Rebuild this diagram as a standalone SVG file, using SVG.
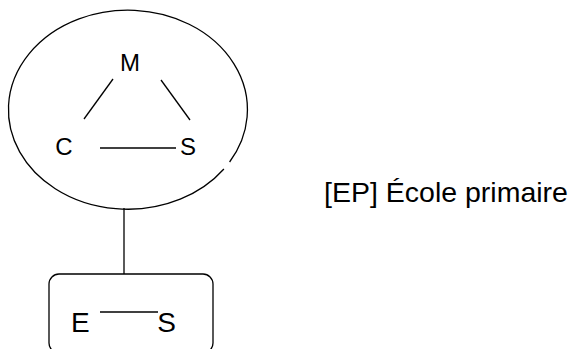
<svg xmlns="http://www.w3.org/2000/svg" width="578" height="349" viewBox="0 0 578 349">
  <style>
    .ln { stroke: #000; stroke-width: 1.3; fill: none; }
    .t { font-family: "Liberation Sans", Arial, sans-serif; font-size: 24px; fill: #000; }
    .tb { font-family: "Liberation Sans", Arial, sans-serif; font-size: 28px; fill: #000; }
    .lbl { font-family: "Liberation Sans", Arial, sans-serif; font-size: 28.5px; fill: #000; }
  </style>
  <rect width="578" height="349" fill="#fff"/>
  <g id="connectors">
    <line class="ln" x1="124" y1="208" x2="124" y2="274"/>
    <line class="ln" x1="113" y1="79" x2="84" y2="119"/>
    <line class="ln" x1="161" y1="80" x2="190" y2="120"/>
    <line class="ln" x1="100" y1="148" x2="176" y2="148"/>
    <line class="ln" x1="100" y1="312" x2="158" y2="312"/>
  </g>
  <g id="node-ellipse">
    <path class="ln" d="M 229.6 162 A 119.5 99.5 0 1 0 223.9 169"/>
  </g>
  <g id="node-M"><text class="t" x="130" y="71" text-anchor="middle">M</text></g>
  <g id="node-C"><text class="t" x="64" y="155" text-anchor="middle">C</text></g>
  <g id="node-S"><text class="t" x="188" y="155" text-anchor="middle">S</text></g>
  <g id="node-box">
    <rect class="ln" x="49" y="274" width="164" height="79" rx="10" ry="10"/>
  </g>
  <g id="node-E"><text class="tb" x="71" y="332">E</text></g>
  <g id="node-S2"><text class="tb" x="166.5" y="332" text-anchor="middle">S</text></g>
  <g id="label"><text class="lbl" x="324" y="202">[EP] École primaire</text></g>
</svg>
